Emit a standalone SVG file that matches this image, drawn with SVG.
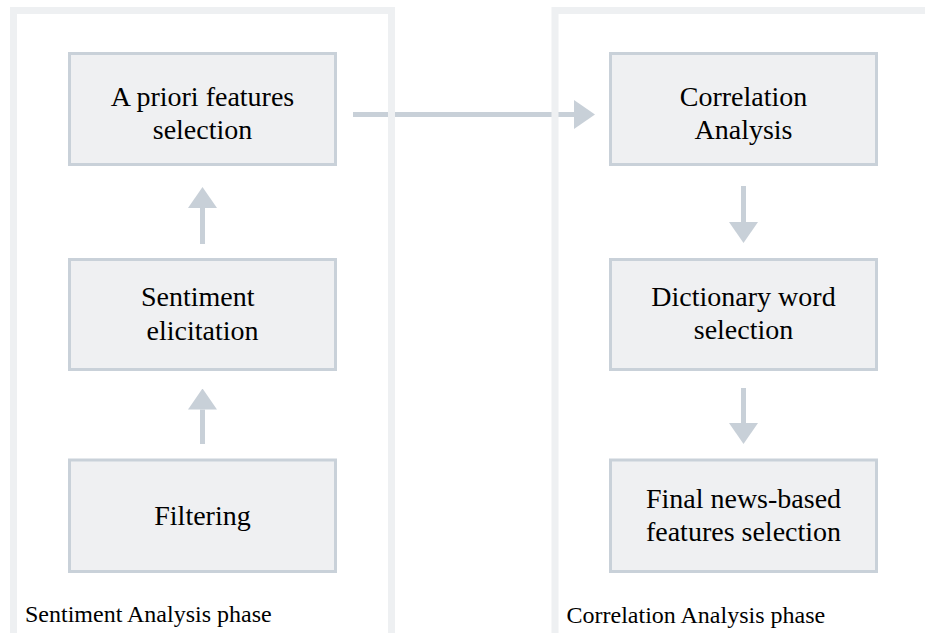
<svg xmlns="http://www.w3.org/2000/svg" width="925" height="633" viewBox="0 0 925 633">
<style>
.container{fill:none;stroke:#eef0f2;stroke-width:7}
.node rect{fill:#eff0f2;stroke:#c9d1d9;stroke-width:3}
.node text{font-family:"Liberation Serif","Times New Roman",serif;font-size:28px;fill:#000;text-anchor:middle}
.label{font-family:"Liberation Serif","Times New Roman",serif;font-size:24px;fill:#000}
.conn{stroke:#c8d0d8;stroke-width:5;fill:none;marker-end:url(#head)}
</style>
<defs>
<marker id="head" viewBox="0 0 21 29" refX="0" refY="14.5" markerWidth="21" markerHeight="29" markerUnits="userSpaceOnUse" orient="auto">
<polygon points="0,0 21,14.5 0,29" fill="#c8d0d8"/>
</marker>
</defs>
<rect width="925" height="633" fill="#ffffff"/>
<g id="connectors">
<path class="conn" d="M353,114.5 H574"/>
<path class="conn" d="M202.5,244 V208"/>
<path class="conn" d="M202.5,444 V409.5"/>
<path class="conn" d="M743.5,186 V222"/>
<path class="conn" d="M743.5,388 V423"/>
</g>
<g id="sentiment-phase">
<rect class="container" x="13.5" y="10.5" width="378" height="626"/>
<text class="label" x="25" y="621.5">Sentiment Analysis phase</text>
</g>
<g id="correlation-phase">
<rect class="container" x="555" y="10.5" width="400" height="626"/>
<text class="label" x="566.5" y="622.5">Correlation Analysis phase</text>
</g>
<g id="apriori" class="node">
<rect x="69.5" y="53.5" width="266" height="111"/>
<text x="202.5" y="106">A priori features</text>
<text x="202.5" y="139.3">selection</text>
</g>
<g id="sentiment" class="node">
<rect x="69.5" y="259.5" width="266" height="110"/>
<text x="141" y="306" style="text-anchor:start">Sentiment</text>
<text x="202.5" y="340">elicitation</text>
</g>
<g id="filtering" class="node">
<rect x="69.5" y="460" width="266" height="111.5"/>
<text x="202.5" y="525">Filtering</text>
</g>
<g id="correlation" class="node">
<rect x="610.5" y="53.5" width="266" height="111"/>
<text x="743.5" y="106">Correlation</text>
<text x="743.5" y="139.3">Analysis</text>
</g>
<g id="dictionary" class="node">
<rect x="610.5" y="259.5" width="266" height="110"/>
<text x="743.5" y="305.7">Dictionary word</text>
<text x="743.5" y="339">selection</text>
</g>
<g id="final" class="node">
<rect x="610.5" y="460" width="266" height="111.5"/>
<text x="743.5" y="508.3">Final news-based</text>
<text x="743.5" y="541">features selection</text>
</g>
</svg>
